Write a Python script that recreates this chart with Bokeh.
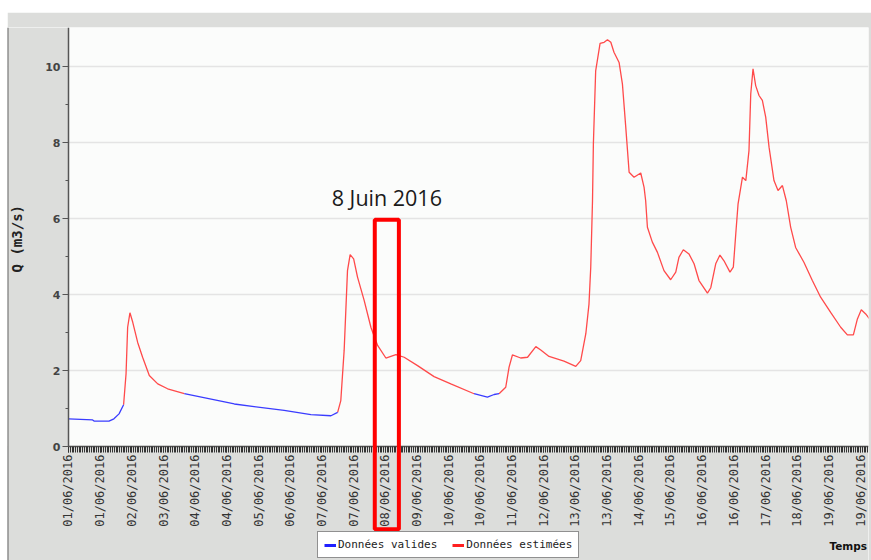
from datetime import datetime, timezone
import math

from bokeh.plotting import figure
from bokeh.layouts import column, row
from bokeh.models import (Range1d, FixedTicker, DatetimeTickFormatter, BoxAnnotation,
                          Label, Legend, LegendItem, Spacer, Span)
from bokeh.embed import file_html
from bokeh.resources import INLINE

# ---------------- data (hours since 01/06/2016 00:00, Q in m3/s) ----------------
valid_1_h = [0.0, 13.7, 14.5, 23.0, 25.8, 28.7, 31.3]
valid_1_q = [0.73, 0.70, 0.67, 0.67, 0.73, 0.86, 1.10]

estim_1_h = [31.3, 32.7, 33.6, 34.9, 36.5, 39.3, 42.1, 45.9, 50.7, 56.3, 65.8]
estim_1_q = [1.10, 1.92, 3.14, 3.52, 3.27, 2.74, 2.35, 1.87, 1.65, 1.52, 1.39]

valid_2_h = [65.8, 94.2, 122.5, 137.7, 149.1, 152.9]
valid_2_q = [1.39, 1.12, 0.95, 0.84, 0.81, 0.90]

estim_2_h = [152.9, 154.7, 156.6, 158.5, 160.0, 162.0, 164.2, 168.0, 171.8, 175.6,
             180.3, 186.0, 190.7, 198.3, 207.7, 217.2, 230.4]
estim_2_q = [0.90, 1.21, 2.53, 4.63, 5.05, 4.94, 4.46, 3.84, 3.14, 2.66,
             2.33, 2.42, 2.35, 2.13, 1.84, 1.65, 1.39]

valid_3_h = [230.4, 238.0, 241.8, 244.6]
valid_3_q = [1.39, 1.30, 1.37, 1.39]

estim_3_h = [244.6, 248.4, 250.3, 252.2, 256.9, 260.8, 265.5, 268.3, 273.0, 281.5,
             288.2, 291.0, 293.9, 295.7, 296.7, 297.7, 298.2, 299.5, 302.0, 304.3,
             306.2, 308.1, 309.9, 312.8, 314.7, 316.6, 318.5, 321.3, 325.1, 327.0,
             327.9, 328.9, 331.7, 334.6, 338.3, 342.1, 345.0, 346.8, 349.3, 352.5,
             355.4, 358.2, 363.0, 364.9, 367.7, 370.1, 372.4, 375.8, 377.7, 379.1,
             380.4, 382.9, 384.8, 386.6, 387.6, 388.9, 390.4, 392.3, 394.2, 396.1,
             398.0, 400.8, 403.1, 405.6, 407.8, 410.3, 413.1, 417.8, 422.6, 427.3,
             433.0, 438.7, 442.5, 445.9, 448.2, 450.4, 452.9, 455.7]
estim_3_q = [1.39, 1.56, 2.09, 2.41, 2.33, 2.35, 2.63, 2.54, 2.37, 2.25,
             2.11, 2.26, 2.97, 3.75, 4.72, 6.47, 7.97, 9.89, 10.61, 10.64,
             10.71, 10.64, 10.38, 10.11, 9.54, 8.40, 7.22, 7.09, 7.20, 6.82,
             6.47, 5.77, 5.38, 5.11, 4.63, 4.39, 4.59, 4.98, 5.18, 5.07,
             4.81, 4.37, 4.04, 4.18, 4.81, 5.04, 4.89, 4.59, 4.72, 5.60,
             6.39, 7.09, 7.00, 7.79, 9.28, 9.94, 9.50, 9.24, 9.11, 8.67,
             7.88, 7.00, 6.74, 6.87, 6.47, 5.77, 5.24, 4.85, 4.37, 3.93,
             3.53, 3.14, 2.94, 2.94, 3.36, 3.60, 3.49, 3.32]

tick_step_hours = 18
x_start_hours = -34.66   # room left of the Q axis (tick labels, axis title)
x_end_hours = 454.5
y_top = 11.03
y_bottom = -3.0          # room under the time axis (tick labels, legend)
y_major = [0, 2, 4, 6, 8, 10]
y_minor = [1, 3, 5, 7, 9]
highlight_start_h, highlight_end_h = 174.0, 187.7
highlight_text = "8 Juin 2016"
series_names = ["Données valides", "Données estimées"]
y_title = "Q (m3/s)"
x_title = "Temps"

# ---------------- helpers ----------------
BASE_MS = datetime(2016, 6, 1, tzinfo=timezone.utc).timestamp() * 1000.0


def ms(h):
    return BASE_MS + h * 3600000.0


def join(segments):
    xs, ys = [], []
    for i, (hh, qq) in enumerate(segments):
        if i:
            xs.append(ms(hh[0]))
            ys.append(float("nan"))
        xs += [ms(h) for h in hh]
        ys += list(qq)
    return xs, ys


vx, vy = join([(valid_1_h, valid_1_q), (valid_2_h, valid_2_q), (valid_3_h, valid_3_q)])
ex, ey = join([(estim_1_h, estim_1_q), (estim_2_h, estim_2_q), (estim_3_h, estim_3_q)])

BLUE = "#3a3cff"
RED = "#ff4a4a"
GREY = "#dcdddb"

p = figure(width=864, height=548, output_backend="svg", toolbar_location=None,
           x_axis_type="datetime",
           x_range=Range1d(ms(x_start_hours), ms(x_end_hours)),
           y_range=Range1d(y_bottom, y_top),
           min_border_left=0, min_border_right=3, min_border_top=15, min_border_bottom=0)

p.background_fill_color = "#fbfcfb"
p.border_fill_color = GREY
p.outline_line_color = None

# grey areas outside the data quadrant (axis labels areas)
p.add_layout(BoxAnnotation(top=0, fill_color=GREY, fill_alpha=1, line_color=None,
                           level="underlay"))
p.add_layout(BoxAnnotation(right=ms(0), fill_color=GREY, fill_alpha=1, line_color=None,
                           level="underlay"))
# thin dark left edge of the chart panel
p.add_layout(Span(location=ms(x_start_hours), dimension="height",
                  line_color="#666666", line_width=2))

# time axis drawn at Q = 0
xa = p.xaxis[0]
xa.fixed_location = 0
xa.bounds = (ms(0), ms(x_end_hours))
xa.ticker = FixedTicker(ticks=[ms(h) for h in range(0, 451, tick_step_hours)],
                        minor_ticks=[ms(h) for h in range(0, 455)])
fmt = "%d/%m/%Y"
xa.formatter = DatetimeTickFormatter(microseconds=fmt, milliseconds=fmt, seconds=fmt,
                                     minsec=fmt, minutes=fmt, hourmin=fmt, hours=fmt,
                                     days=fmt, months=fmt, years=fmt)
xa.major_label_orientation = math.pi / 2
xa.major_label_text_font = "DejaVu Sans Mono"
xa.major_label_text_font_size = "12px"
xa.major_label_text_color = "#333333"
xa.major_label_standoff = 2
xa.major_tick_out = 6
xa.major_tick_in = 0
xa.minor_tick_out = 6
xa.minor_tick_in = 0
xa.minor_tick_line_color = "#333333"
xa.major_tick_line_color = "#333333"
xa.axis_line_color = "#555555"
xa.axis_line_width = 1.5

# Q axis drawn at the start of the period
ya = p.yaxis[0]
ya.fixed_location = ms(0)
ya.bounds = (0, y_top)
ya.ticker = FixedTicker(ticks=y_major, minor_ticks=y_minor)
ya.major_label_text_font = "DejaVu Sans"
ya.major_label_text_font_style = "bold"
ya.major_label_text_font_size = "11px"
ya.major_label_text_color = "#444444"
ya.major_label_standoff = 2
ya.major_tick_out = 6
ya.major_tick_in = 0
ya.minor_tick_out = 3
ya.minor_tick_in = 0
ya.major_tick_line_color = "#555555"
ya.minor_tick_line_color = "#555555"
ya.axis_line_color = "#555555"
ya.axis_line_width = 1.5

p.xgrid.grid_line_color = None
p.ygrid.grid_line_color = "#e4e4e4"
p.ygrid.grid_line_width = 1.5
p.ygrid.bounds = (0, y_top)

# series
p.line(ex, ey, line_color=RED, line_width=1.3)
p.line(vx, vy, line_color=BLUE, line_width=1.3)

# legend with thick samples
nan = float("nan")
lb = p.line([ms(0)], [nan], line_color="#2020ff", line_width=3)
lr = p.line([ms(0)], [nan], line_color="#ff2020", line_width=3)
legend = Legend(items=[LegendItem(label=series_names[0], renderers=[lb]),
                       LegendItem(label=series_names[1], renderers=[lr])],
                orientation="horizontal", location=(310, 2),
                label_text_font="DejaVu Sans Mono", label_text_font_size="11px",
                label_text_color="#222222",
                glyph_width=12, glyph_height=12, label_height=12, label_standoff=2,
                spacing=15, padding=6, margin=0,
                border_line_color="#222222", border_line_width=1,
                background_fill_color="white", background_fill_alpha=1)
p.add_layout(legend)

# axis titles
p.add_layout(Label(x=ms(-28.98), y=5.47, text=y_title, angle=math.pi / 2,
                   text_align="center", text_baseline="middle",
                   text_font="DejaVu Sans Mono", text_font_style="bold",
                   text_font_size="14px", text_color="#222222"))
p.add_layout(Label(x=ms(443), y=-2.62, text=x_title, text_align="center",
                   text_baseline="alphabetic", text_font="DejaVu Sans",
                   text_font_style="bold", text_font_size="10.5px", text_color="#111111"))

# highlight annotation
p.add_layout(BoxAnnotation(left=ms(highlight_start_h), right=ms(highlight_end_h),
                           top=5.97, bottom=-2.18, fill_alpha=0,
                           line_color="#ff0000", line_width=4, line_alpha=1,
                           level="overlay"))
p.add_layout(Label(x=ms((highlight_start_h + highlight_end_h) / 2), y=6.566,
                   text=highlight_text, text_align="center", text_baseline="alphabetic",
                   text_font="Open Sans", text_font_size="21.5px", text_color="#1a1a1a"))

layout = column(Spacer(height=12), row(Spacer(width=7), p))
open("out.html", "w").write(file_html(layout, INLINE))
